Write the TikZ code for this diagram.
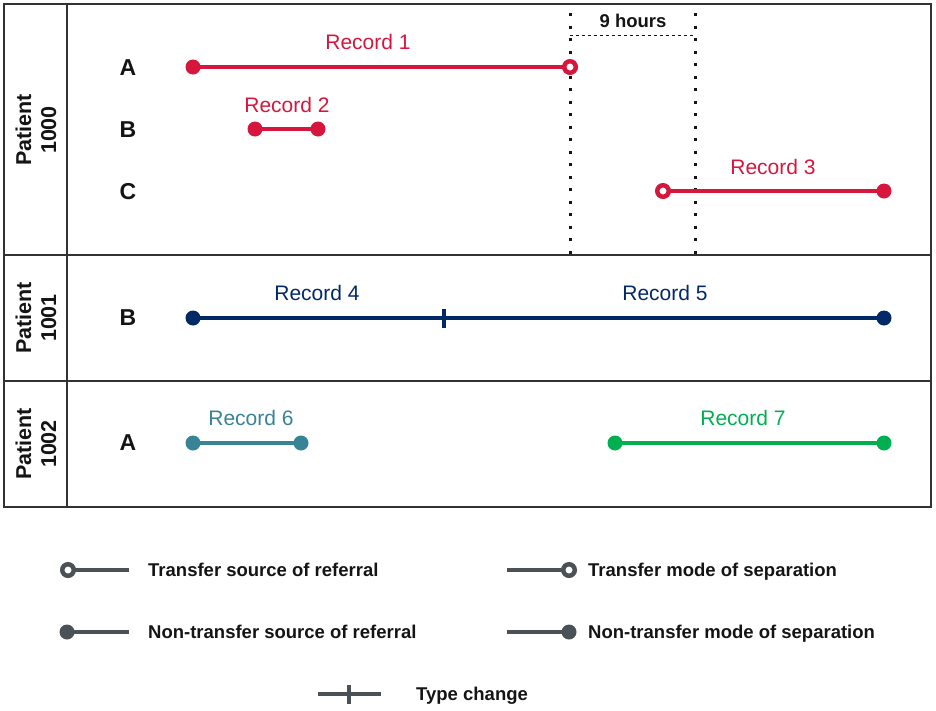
\documentclass[tikz,border=0pt]{standalone}
\usepackage{fontspec}
\setmainfont{Liberation Sans}
\usetikzlibrary{positioning,calc}
\definecolor{ink}{RGB}{20,20,20}
\definecolor{frame}{RGB}{50,50,50}
\definecolor{recred}{RGB}{214,22,60}
\definecolor{recnavy}{RGB}{0,41,102}
\definecolor{recteal}{RGB}{56,132,150}
\definecolor{recgreen}{RGB}{0,176,80}
\definecolor{legendgray}{RGB}{75,82,87}
\tikzset{
  rec/.style={line width=4pt, draw=#1},
  fdot/.style={circle, fill=#1, inner sep=0pt, minimum size=15pt},
  hdot/.style={circle, draw=#1, fill=white, line width=4.5pt, inner sep=0pt, minimum size=11.5pt},
  typetick/.style={line width=4pt, draw=#1},
  reclab/.style={font=\fontsize{21}{25}\selectfont, text=#1},
  rowlab/.style={font=\bfseries\fontsize{23}{27}\selectfont, text=ink},
  patlab/.style={font=\bfseries\fontsize{21.5}{25}\selectfont, align=center, rotate=90, text=ink},
  leglab/.style={font=\bfseries\fontsize{18.5}{22}\selectfont, anchor=base west, text=ink, inner sep=0pt},
  guide/.style={line width=3pt, dash pattern=on 3pt off 9.5pt, draw=ink},
  span/.style={line width=1pt, dash pattern=on 3pt off 3pt, draw=ink},
  framed/.style={draw=frame, line width=1.5pt},
}

\begin{document}
\begin{tikzpicture}[x=1pt, y=-1pt]
\useasboundingbox (0,0) rectangle (936,710);

% table frame
\draw[framed] (4,4) rectangle (931,507);
\draw[framed] (67,4) -- (67,507);
\draw[framed] (4,255) -- (931,255);
\draw[framed] (4,381) -- (931,381);

% patient labels and rows
\node[patlab] (p1000) at (36,130) {Patient\\1000};
\node[patlab] (p1001) at (36,318) {Patient\\1001};
\node[patlab] (p1002) at (36,444) {Patient\\1002};
\node[rowlab] (rA) at (128,68) {A};
\node[rowlab] (rB) at (128,130) {B};
\node[rowlab] (rC) at (128,192) {C};
\node[rowlab] (rB2) at (128,318) {B};
\node[rowlab] (rA2) at (128,443) {A};

% 9 hours gap
\coordinate (g1t) at (570,13);
\coordinate (g1b) at (570,255);
\coordinate (g2t) at (695,13);
\coordinate (g2b) at (695,255);
\draw[guide] (g1t) -- (g1b);
\draw[guide] (g2t) -- (g2b);
\coordinate (s1) at (570,35);
\coordinate (s2) at (695,35);
\draw[span] (s1) -- (s2);
\node[font=\bfseries\fontsize{18.5}{22}\selectfont, text=ink] (gap) at (633,21) {9 hours};

% patient 1000
\coordinate (r1a) at (193,67);
\coordinate (r1b) at (570,67);
\draw[rec=recred] (r1a) -- (r1b);
\node[fdot=recred] at (r1a) {};
\node[hdot=recred] at (r1b) {};
\node[reclab=recred] (l1) at (368,42) {Record 1};

\coordinate (r2a) at (255,129);
\coordinate (r2b) at (318,129);
\draw[rec=recred] (r2a) -- (r2b);
\node[fdot=recred] at (r2a) {};
\node[fdot=recred] at (r2b) {};
\node[reclab=recred] (l2) at (287,105) {Record 2};

\coordinate (r3a) at (663,191);
\coordinate (r3b) at (884,191);
\draw[rec=recred] (r3a) -- (r3b);
\node[hdot=recred] at (r3a) {};
\node[fdot=recred] at (r3b) {};
\node[reclab=recred] (l3) at (773,167) {Record 3};

% patient 1001
\coordinate (r4a) at (193,318);
\coordinate (r4b) at (444,318);
\coordinate (r5b) at (884,318);
\draw[rec=recnavy] (r4a) -- (r4b) -- (r5b);
\draw[typetick=recnavy] ($(r4b)+(0,-9)$) -- ($(r4b)+(0,10)$);
\node[fdot=recnavy] at (r4a) {};
\node[fdot=recnavy] at (r5b) {};
\node[reclab=recnavy] (l4) at (317,293) {Record 4};
\node[reclab=recnavy] (l5) at (665,293) {Record 5};

% patient 1002
\coordinate (r6a) at (193,443);
\coordinate (r6b) at (301,443);
\draw[rec=recteal] (r6a) -- (r6b);
\node[fdot=recteal] at (r6a) {};
\node[fdot=recteal] at (r6b) {};
\node[reclab=recteal] (l6) at (251,418) {Record 6};

\coordinate (r7a) at (615,443);
\coordinate (r7b) at (884,443);
\draw[rec=recgreen] (r7a) -- (r7b);
\node[fdot=recgreen] at (r7a) {};
\node[fdot=recgreen] at (r7b) {};
\node[reclab=recgreen] (l7) at (743,418) {Record 7};

% legend
\coordinate (lg1a) at (68,570);
\coordinate (lg1b) at (129,570);
\draw[rec=legendgray] (lg1a) -- (lg1b);
\node[hdot=legendgray] at (lg1a) {};
\node[leglab] (lt1) at (148,576.5) {Transfer source of referral};

\coordinate (lg2a) at (67,632);
\coordinate (lg2b) at (129,632);
\draw[rec=legendgray] (lg2a) -- (lg2b);
\node[fdot=legendgray] at (lg2a) {};
\node[leglab] (lt2) at (148,638.5) {Non-transfer source of referral};

\coordinate (lg3a) at (507,570);
\coordinate (lg3b) at (569,570);
\draw[rec=legendgray] (lg3a) -- (lg3b);
\node[hdot=legendgray] at (lg3b) {};
\node[leglab] (lt3) at (588,576.5) {Transfer mode of separation};

\coordinate (lg4a) at (507,632);
\coordinate (lg4b) at (569,632);
\draw[rec=legendgray] (lg4a) -- (lg4b);
\node[fdot=legendgray] at (lg4b) {};
\node[leglab] (lt4) at (588,638.5) {Non-transfer mode of separation};

\coordinate (lg5a) at (318,694);
\coordinate (lg5m) at (349,694);
\coordinate (lg5b) at (381,694);
\draw[rec=legendgray] (lg5a) -- (lg5b);
\draw[typetick=legendgray] ($(lg5m)+(0,-9)$) -- ($(lg5m)+(0,10)$);
\node[leglab] (lt5) at (416,700.5) {Type change};
\end{tikzpicture}
\end{document}
